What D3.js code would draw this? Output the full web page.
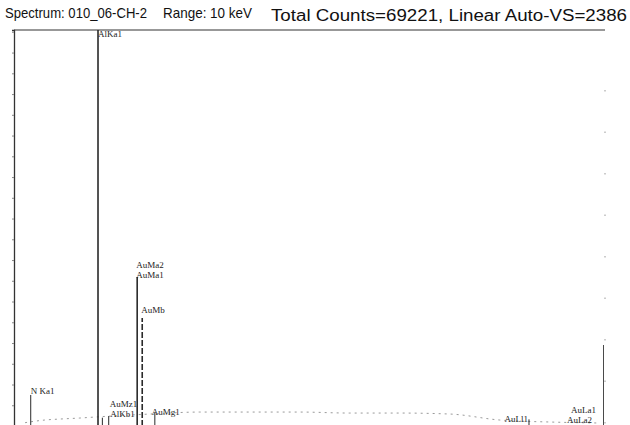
<!DOCTYPE html>
<html>
<head>
<meta charset="utf-8">
<script src="https://cdn.jsdelivr.net/npm/d3@7"></script>
<style>
  body { margin: 0; background: #fff; }
  svg { display: block; }
  .title { font-family: "Liberation Sans", Arial, sans-serif; fill: #111; }
  .peak-label { font-family: "Liberation Serif", serif; font-size: 9px; fill: #222; }
</style>
</head>
<body>
<script>
// peaks: energy (keV) and counts
let peakNames  = ['N Ka1', 'AlKa1', 'AlKb1', 'AuMz1', 'AuMa1', 'AuMb', 'AuMg1', 'AuLl1', 'AuLa1'];
let peakKeV    = [0.392, 1.486, 1.557, 1.660, 2.123, 2.205, 2.410, 8.494, 9.713];
let peakCounts = [187, 3000, 50, 60, 898, 651, 80, 40, 488];
let peakLabels = [['N Ka1'], ['AlKa1'], ['AlKb1'], ['AuMz1'], ['AuMa2', 'AuMa1'], ['AuMb'], ['AuMg1'], ['AuLl1'], ['AuLa1', 'AuLa2']];

// background continuum
let bgKeV    = [0.30, 0.62, 0.87, 1.19, 1.44, 2.33, 3.14, 3.96, 4.77, 5.58, 6.40, 7.21, 8.02, 8.84, 9.65];
let bgCounts = [20, 36, 42, 48, 54, 72, 84, 84, 84, 78, 78, 72, 36, 24, 18];

let fullScale = 2386;

let titleLeft  = 'Spectrum: 010_06-CH-2';
let titleRange = 'Range: 10 keV';
let titleRight = 'Total Counts=69221, Linear Auto-VS=2386';

let width = 630, height = 425;
let plot = { left: 14, right: 604, top: 30, bottom: 426 };

let x = d3.scaleLinear().domain([0.12, 9.73]).range([plot.left, plot.right + 1]);
let y = d3.scaleLinear().domain([0, fullScale]).range([plot.bottom, plot.top]);

let svg = d3.select('body').append('svg')
    .attr('width', width)
    .attr('height', height);

// titles
svg.append('text').attr('class', 'title')
    .attr('x', 5).attr('y', 18).attr('font-size', 15)
    .attr('textLength', 142).attr('lengthAdjust', 'spacingAndGlyphs')
    .text(titleLeft);
svg.append('text').attr('class', 'title')
    .attr('x', 163).attr('y', 18).attr('font-size', 15)
    .attr('textLength', 89).attr('lengthAdjust', 'spacingAndGlyphs')
    .text(titleRange);
svg.append('text').attr('class', 'title')
    .attr('x', 271).attr('y', 21).attr('font-size', 16)
    .attr('textLength', 356).attr('lengthAdjust', 'spacingAndGlyphs')
    .text(titleRight);

svg.append('clipPath').attr('id', 'clip')
  .append('rect')
    .attr('x', plot.left).attr('y', plot.top)
    .attr('width', plot.right - plot.left).attr('height', plot.bottom - plot.top);

// frame
svg.append('line')
    .attr('x1', plot.left).attr('x2', plot.right + 1)
    .attr('y1', plot.top).attr('y2', plot.top)
    .attr('stroke', '#333').attr('stroke-width', 1.2);

let yAxis = d3.axisLeft(y)
    .tickValues(d3.range(0, fullScale, 125))
    .tickSize(2)
    .tickFormat('');

let yG = svg.append('g')
    .attr('transform', `translate(${plot.left},0)`)
    .call(yAxis);
yG.select('.domain').attr('stroke', '#333').attr('stroke-width', 1.3);
yG.selectAll('.tick line').attr('stroke', '#888');

svg.append('line')
    .attr('x1', plot.right + 1).attr('x2', plot.right + 1)
    .attr('y1', plot.top + 60).attr('y2', plot.bottom)
    .attr('stroke', '#999').attr('stroke-width', 1)
    .attr('stroke-dasharray', '1.5,40');

let g = svg.append('g').attr('clip-path', 'url(#clip)');

// background continuum as a broken grey trace
let bgLine = d3.line()
    .x((d, i) => x(bgKeV[i]))
    .y(d => y(d))
    .curve(d3.curveMonotoneX);

g.append('path')
    .attr('d', bgLine(bgCounts))
    .attr('fill', 'none')
    .attr('stroke', '#9a9a9a')
    .attr('stroke-width', 1)
    .attr('stroke-dasharray', '2,4');

// peaks as sticks
g.selectAll('.peak')
    .data(peakCounts)
    .join('line')
    .attr('class', 'peak')
    .attr('x1', (d, i) => x(peakKeV[i]))
    .attr('x2', (d, i) => x(peakKeV[i]))
    .attr('y1', y(0))
    .attr('y2', d => y(d))
    .attr('stroke', '#2a2a2a')
    .attr('stroke-width', (d, i) => d > 300 ? 1.6 : 1)
    .attr('stroke-dasharray', (d, i) => peakNames[i] === 'AuMb' ? '6,2' : null);

// label placement tweaks (dx, baseline dy from peak top, anchor)
let labelPos = {
    'N Ka1': [0, -1, 'start'],
    'AlKa1': [0, 7, 'start'],
    'AlKb1': [8, -1, 'start'],
    'AuMz1': [1, -9, 'start'],
    'AuMa1': [-1, 1, 'start'],
    'AuMb':  [-1, -5, 'start'],
    'AuMg1': [-3, 2, 'start'],
    'AuLl1': [-1, 3, 'end'],
    'AuLa1': [-8, 68, 'end']
};

peakNames.forEach((name, i) => {
    let p = labelPos[name];
    let top = Math.max(y(peakCounts[i]), plot.top);
    let lines = peakLabels[i];
    lines.forEach((txt, j) => {
        let anchorEnd = p[2] === 'end';
        // stacked lines: start-anchored stacks grow upward, end-anchored downward
        let offset = anchorEnd ? j * 10 : (j - (lines.length - 1)) * 10;
        svg.append('text')
            .attr('class', 'peak-label')
            .attr('x', x(peakKeV[i]) + p[0] - (anchorEnd && j === 1 ? 4 : 0))
            .attr('y', top + p[1] + offset)
            .attr('text-anchor', p[2])
            .text(txt);
    });
});
</script>
</body>
</html>
